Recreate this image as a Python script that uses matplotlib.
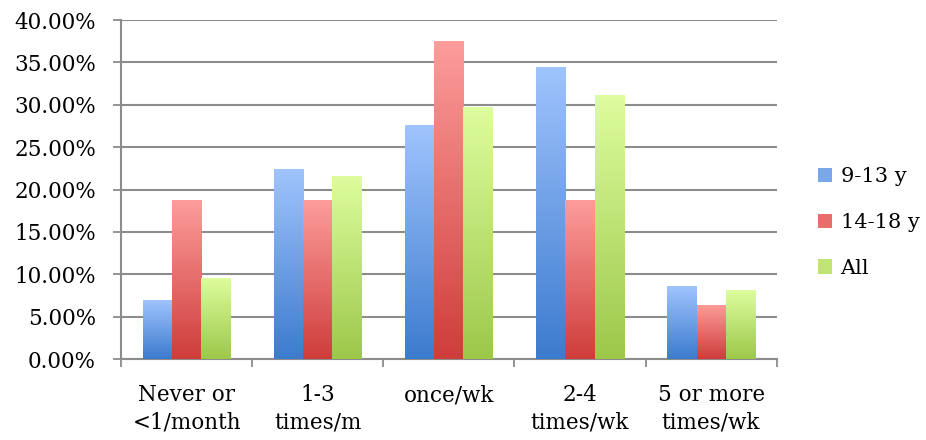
import matplotlib
matplotlib.use('Agg')
import matplotlib.pyplot as plt
import numpy as np
from matplotlib.colors import LinearSegmentedColormap
from matplotlib.patches import Patch
from matplotlib.ticker import FuncFormatter, MultipleLocator

categories = ['Never or\n<1/month', '1-3\ntimes/m', 'once/wk', '2-4\ntimes/wk', '5 or more\ntimes/wk']
series_names = ['9-13 y', '14-18 y', 'All']
age_9_13 = [7.0, 22.4, 27.6, 34.5, 8.6]
age_14_18 = [18.8, 18.8, 37.5, 18.8, 6.4]
all_ages = [9.6, 21.6, 29.7, 31.1, 8.1]

# (top, bottom) gradient colours
grads = [('#a0c4fd', '#3c7bce'), ('#fd9d9b', '#ce3d3b'), ('#defd9e', '#9cc84a')]

plt.rcParams['font.family'] = ['DejaVu Serif']
fig = plt.figure(figsize=(9.26, 4.4), dpi=100)
ax = fig.add_axes([0.1307, 0.184, 0.708, 0.7705])

x = np.arange(len(categories))
w = 0.222
grad_img = np.linspace(1, 0, 256).reshape(-1, 1)
for i, vals in enumerate([age_9_13, age_14_18, all_ages]):
    cmap = LinearSegmentedColormap.from_list('g%d' % i, [grads[i][1], grads[i][0]])
    bars = ax.bar(x + (i - 1) * w, vals, w, color='none', edgecolor='none', zorder=3)
    for b in bars:
        x0, y0 = b.get_x(), b.get_y()
        x1, y1 = x0 + b.get_width(), y0 + b.get_height()
        im = ax.imshow(grad_img, cmap=cmap, aspect='auto', extent=[x0, x1, y0, y1],
                       zorder=3, vmin=0, vmax=1)
        im.set_clip_path(b)

ax.set_xlim(-0.5, len(categories) - 0.5)
ax.set_ylim(0, 40)
ax.yaxis.set_major_locator(MultipleLocator(5))
ax.yaxis.set_major_formatter(FuncFormatter(lambda v, p: '%.2f%%' % v))
ax.grid(axis='y', color='#8c8c8c', linewidth=1.5, zorder=0)
ax.set_axisbelow(True)

ax.set_xticks(x)
ax.set_xticklabels(categories, fontsize=15.5, linespacing=1.3)
ax.set_xticks(np.arange(-0.5, len(categories)), minor=True)
ax.tick_params(axis='x', which='major', length=0, pad=18)
ax.tick_params(axis='x', which='minor', length=6, width=1.3, color='#8c8c8c')
ax.tick_params(axis='y', labelsize=15.5, length=6, width=1.3, color='#8c8c8c', pad=12)

for s in ['top', 'right']:
    ax.spines[s].set_visible(False)
for s in ['left', 'bottom']:
    ax.spines[s].set_color('#8c8c8c')
    ax.spines[s].set_linewidth(1.5)

handles = [Patch(facecolor=c, edgecolor='none', label=n)
           for c, n in zip(['#7aa6ea', '#e86e6c', '#c0e474'], series_names)]
fig.legend(handles=handles, loc='center left', bbox_to_anchor=(0.883, 0.494), frameon=False,
           fontsize=15, handlelength=0.7, handleheight=0.7, handletextpad=0.4, labelspacing=1.28,
           borderaxespad=0, borderpad=0)

fig.savefig('out.png', dpi=100)
